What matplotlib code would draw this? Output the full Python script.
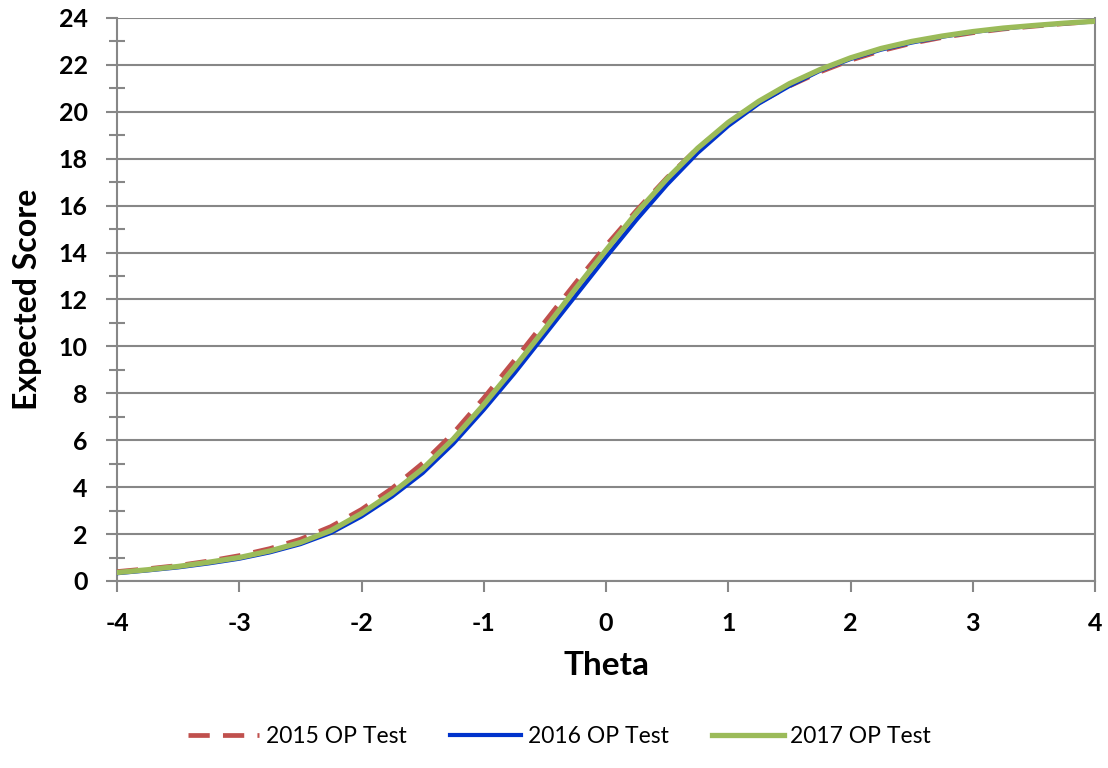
import numpy as np
import matplotlib.pyplot as plt
from matplotlib.ticker import MultipleLocator

theta = np.arange(-4, 4.01, 0.25)

score_2015 = [0.40, 0.52, 0.66, 0.85, 1.08, 1.38, 1.78, 2.32, 3.05, 3.95, 5.02,
              6.30, 7.80, 9.40, 11.05, 12.70, 14.30, 15.80, 17.20, 18.45, 19.50,
              20.40, 21.10, 21.70, 22.20, 22.60, 22.92, 23.17, 23.37, 23.53,
              23.65, 23.76, 23.85]
score_2016 = [0.33, 0.45, 0.58, 0.75, 0.95, 1.22, 1.57, 2.05, 2.75, 3.60, 4.60,
              5.85, 7.30, 8.85, 10.50, 12.15, 13.80, 15.40, 16.90, 18.25, 19.40,
              20.35, 21.10, 21.75, 22.25, 22.65, 22.95, 23.20, 23.40, 23.55,
              23.67, 23.77, 23.85]
score_2017 = [0.36, 0.48, 0.62, 0.80, 1.00, 1.28, 1.64, 2.15, 2.88, 3.75, 4.78,
              6.05, 7.52, 9.10, 10.75, 12.45, 14.10, 15.70, 17.15, 18.45, 19.55,
              20.45, 21.20, 21.80, 22.30, 22.70, 23.00, 23.23, 23.42, 23.57,
              23.68, 23.78, 23.86]
labels = ["2015 OP Test", "2016 OP Test", "2017 OP Test"]

plt.rcParams['font.family'] = ['Lato', 'DejaVu Sans']
plt.rcParams['font.weight'] = 'bold'
plt.rcParams['axes.unicode_minus'] = False
grey = '#878787'

fig = plt.figure(figsize=(11.08, 7.68), dpi=100)
ax = fig.add_axes([0.1056, 0.2435, 0.8827, 0.7331])

ax.plot(theta, score_2015, color='#c0504d', lw=3.4, dashes=(4.5, 2.8), label=labels[0], zorder=3)
ax.plot(theta, score_2016, color='#0033cc', lw=3.0, label=labels[1], zorder=4)
ax.plot(theta, score_2017, color='#9bbb59', lw=3.8, label=labels[2], zorder=5)

ax.set_xlim(-4, 4)
ax.set_ylim(0, 24)
ax.xaxis.set_major_locator(MultipleLocator(1))
ax.yaxis.set_major_locator(MultipleLocator(2))
ax.yaxis.set_minor_locator(MultipleLocator(1))
ax.grid(axis='y', color=grey, lw=1.5, zorder=1)

for side in ['left', 'right', 'bottom']:
    ax.spines[side].set_color(grey)
    ax.spines[side].set_linewidth(1.5)
ax.spines['top'].set_visible(False)

ax.tick_params(axis='y', which='major', direction='out', length=8, width=1.5, color=grey,
               pad=13, labelsize=18)
ax.tick_params(axis='y', which='minor', direction='inout', length=11, width=1.5, color=grey)
ax.tick_params(axis='x', which='major', direction='out', length=8, width=1.5, color=grey,
               pad=14, labelsize=18)
for lab in ax.get_xticklabels() + ax.get_yticklabels():
    lab.set_fontweight('bold')

ax.set_xlabel("Theta", fontsize=24, fontweight='bold', labelpad=12)
ax.set_ylabel("Expected Score", fontsize=23, fontweight='bold', labelpad=12)

fig.legend(loc='lower center', bbox_to_anchor=(0.505, 0.0), ncol=3, frameon=False,
           prop={'size': 16.5, 'weight': 'normal'}, handlelength=3.1,
           columnspacing=1.9, handletextpad=0.3)

fig.savefig("out.png", dpi=100)
